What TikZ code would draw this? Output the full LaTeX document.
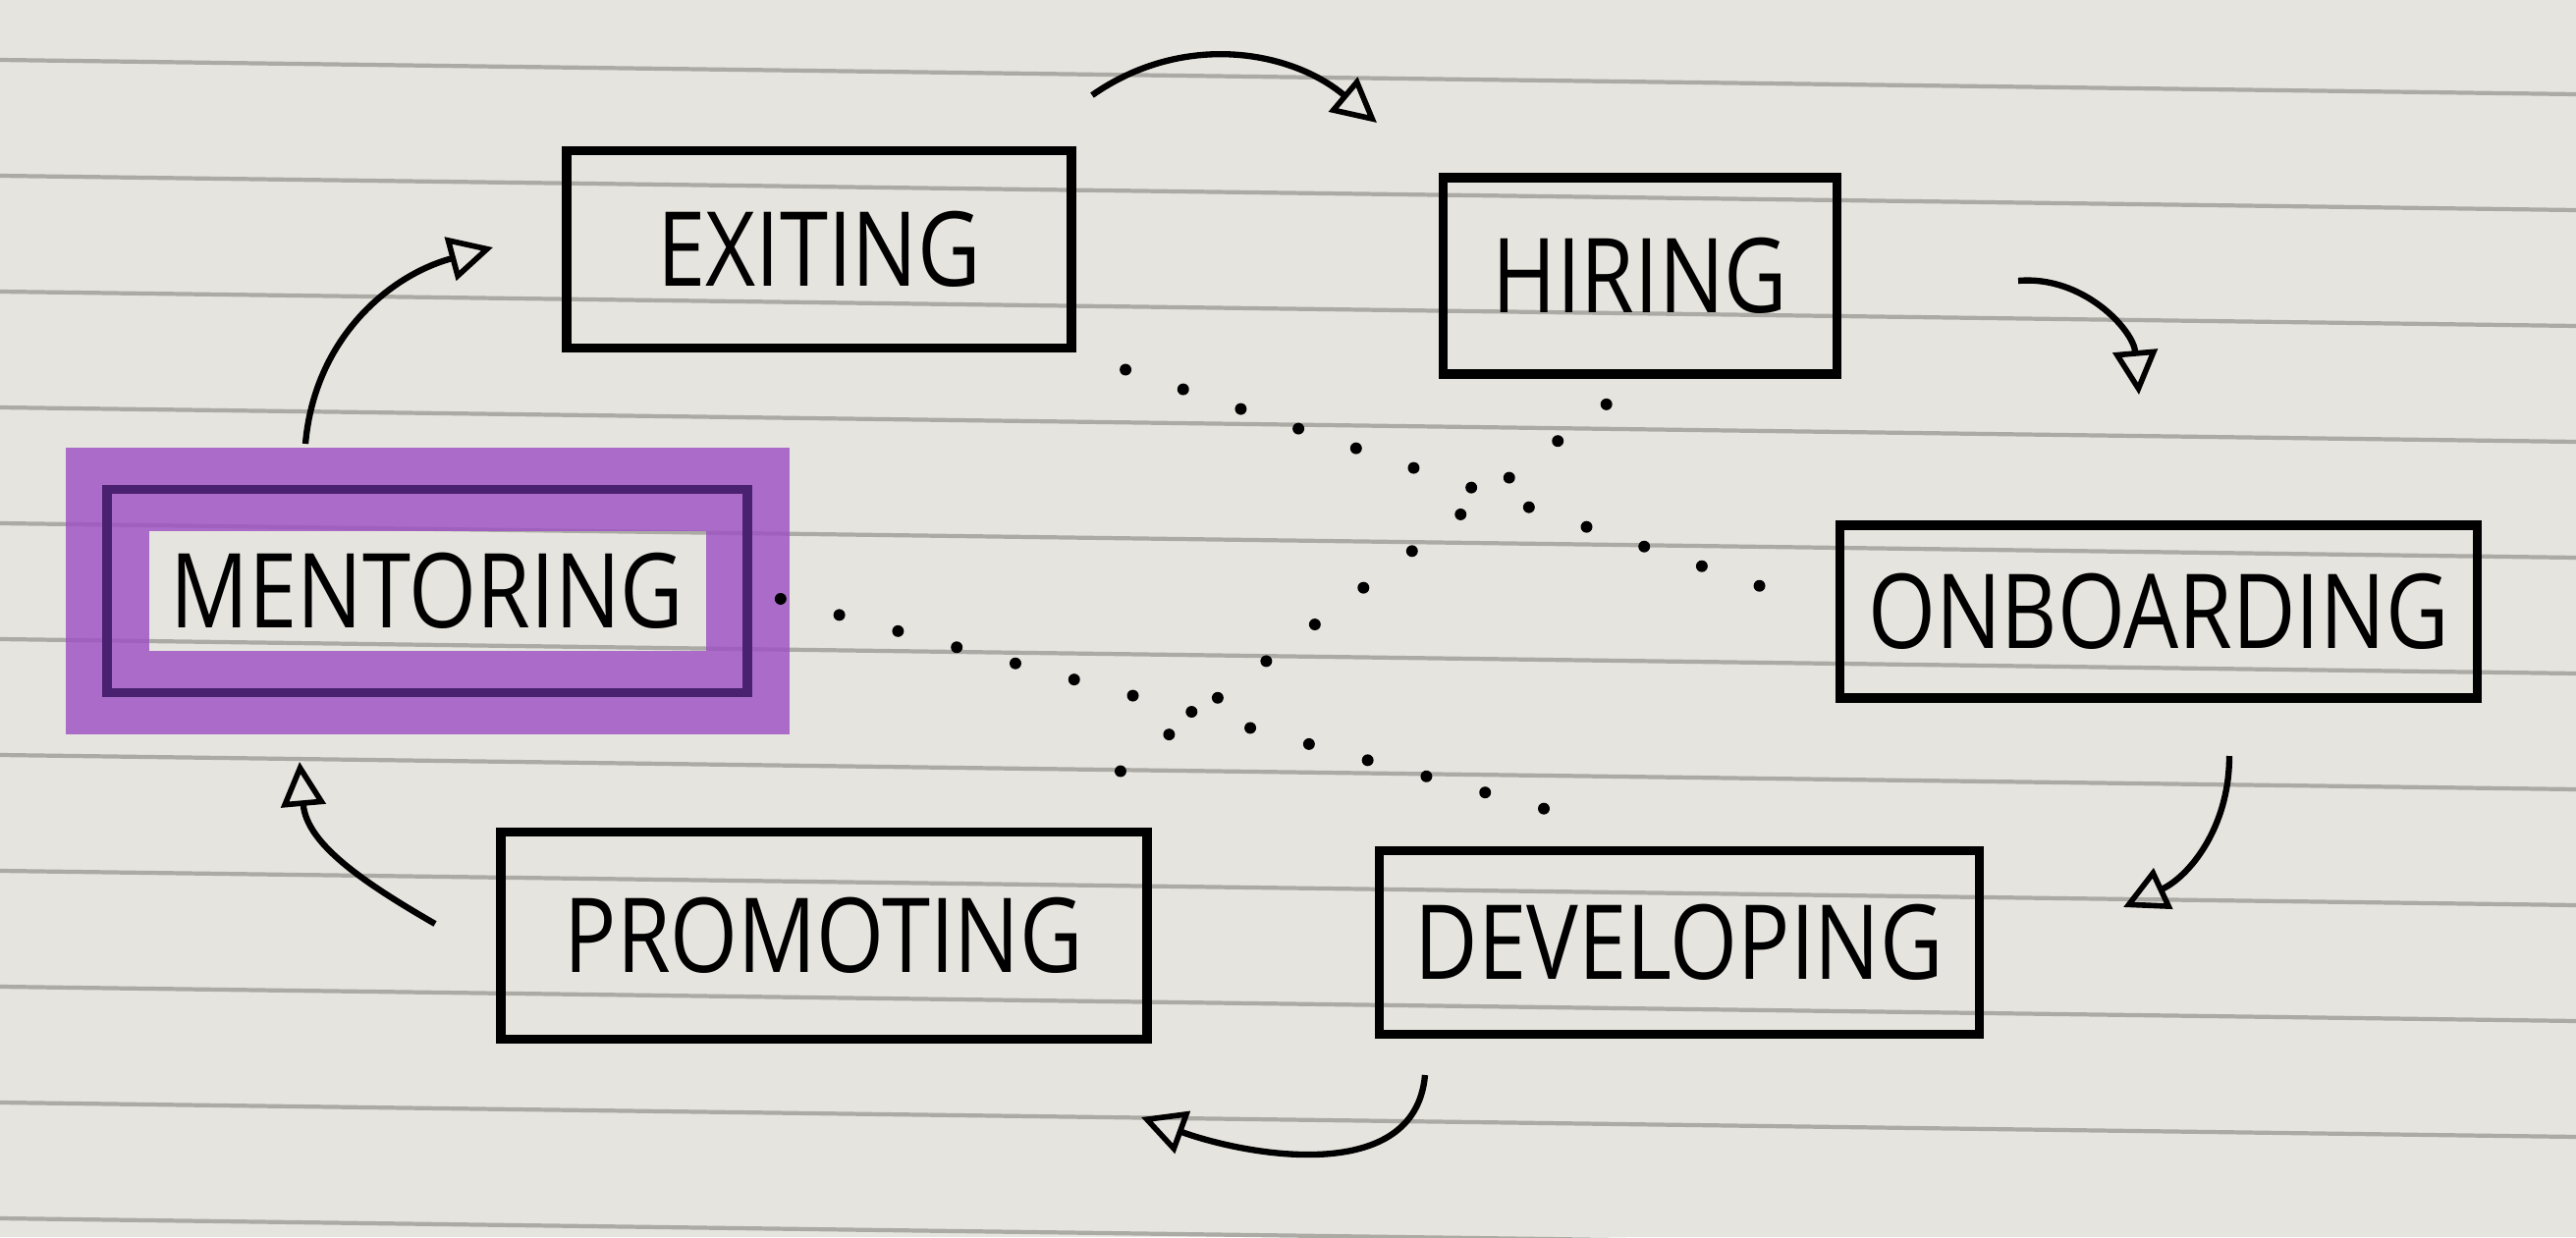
\documentclass[tikz,border=0pt]{standalone}
\usepackage{fontspec}
\setmainfont{Open Sans}[FakeStretch=0.84]
\usetikzlibrary{arrows.meta}
\definecolor{paper}{HTML}{E6E4DE}
\definecolor{ruling}{HTML}{ABAAA5}
\definecolor{marker}{HTML}{9E52C4}
\definecolor{inkpurple}{HTML}{4A2070}
\tikzset{
  stage/.style={draw, line width=2.8pt, inner sep=0pt, font=\fontsize{30}{36}\selectfont},
  picked/.style={draw=inkpurple, preaction={draw=marker, line width=0.85cm, draw opacity=0.82}},
  cycle/.style={line width=1.8pt, -{Triangle[open, length=0.45cm, width=0.45cm, line width=1.6pt]}},
  dots/.style={line width=3.4pt, line cap=round, dash pattern=on 0pt off 0.62cm}
}
\begin{document}
\begin{tikzpicture}
    \useasboundingbox[fill=paper] (0,0) rectangle (26.23,12.60);
    % ruled paper
    \foreach \k in {0,...,10}
        \draw[ruling, line width=1.2pt] (0,{11.99-1.18*\k}) -- (26.23,{11.64-1.18*\k});

    % stages
    \node[stage, minimum width=5.14cm, minimum height=2.01cm] (exiting) at (8.34,10.06) {EXITING};
    \node[stage, minimum width=4.01cm, minimum height=2.00cm] (hiring) at (16.70,9.79) {HIRING};
    \node[stage, minimum width=6.49cm, minimum height=1.76cm] (onboarding) at (21.98,6.37) {ONBOARDING};
    \node[stage, minimum width=6.11cm, minimum height=1.87cm] (developing) at (17.10,3.00) {DEVELOPING};
    \node[stage, minimum width=6.58cm, minimum height=2.11cm] (promoting) at (8.39,3.07) {PROMOTING};
    \node[stage, picked, minimum width=6.52cm, minimum height=2.07cm] (mentoring) at (4.35,6.58) {MENTORING};

    % arrow ends
    \coordinate (exS) at (11.12,11.63);  \coordinate (hiT) at (14.02,11.35);
    \coordinate (hiS) at (20.55,9.74);   \coordinate (onT) at (21.78,8.58);
    \coordinate (onS) at (22.70,4.90);   \coordinate (deT) at (21.62,3.36);
    \coordinate (deS) at (14.51,1.65);   \coordinate (prT) at (11.62,1.22);
    \coordinate (prS) at (4.43,3.19);    \coordinate (meT) at (3.05,4.84);
    \coordinate (meS) at (3.11,8.08);    \coordinate (exT) at (5.02,10.08);

    \draw[cycle] (exS) to[out=35, in=140] (hiT);
    \draw[cycle] (hiS) to[out=5, in=95] (onT);
    \draw[cycle] (onS) to[out=-90, in=25] (deT);
    \draw[cycle] (deS) to[out=-95, in=-20] (prT);
    \draw[cycle] (prS) to[out=150, in=-85] (meT);
    \draw[cycle] (meS) to[out=85, in=195] (exT);

    % dotted links
    \draw[dots, shorten <=0.53cm, shorten >=0.41cm] (exiting.south east) -- (onboarding.west);
    \draw[dots, shorten <=0.43cm, shorten >=0.62cm] (hiring.south) -- (promoting.26);
    \draw[dots, shorten <=0.30cm, shorten >=0.90cm] (mentoring.east) -- (developing.north);
\end{tikzpicture}
\end{document}
